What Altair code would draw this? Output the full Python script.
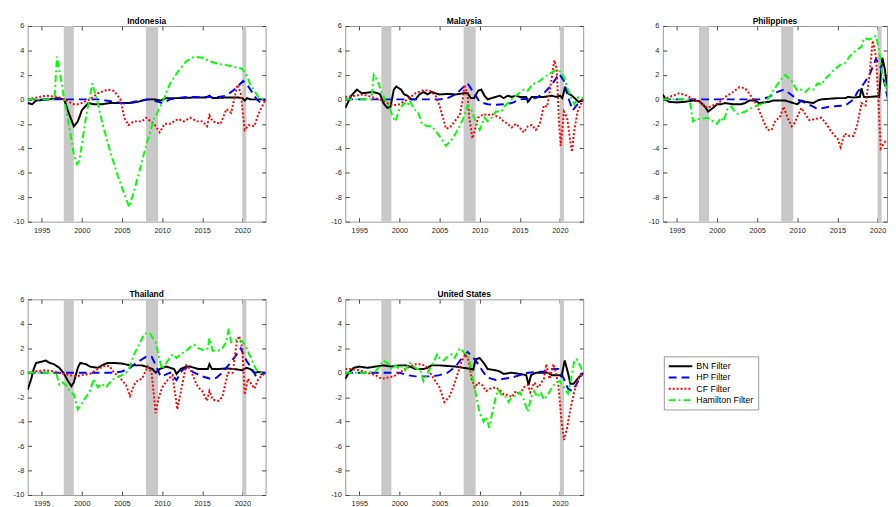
import altair as alt
import pandas as pd

FILTERS = ["BN Filter", "HP Filter", "CF Filter", "Hamilton Filter"]
COLORS = ["#000000", "#0000ff", "#ff0000", "#00ff00"]
DASHES = [[1, 0], [8, 5], [2, 2], [7, 3, 2, 3]]

REC_START = [1997.75, 2008.0, 2020.0]
REC_END = [1999.0, 2009.5, 2020.5]
X_DOMAIN = [1993.25, 2022.9]
X_DOMAIN_CLIPPED = [1993.25, 2021.18]   # the third panel runs past the window edge
X_TICKS = [1995, 2000, 2005, 2010, 2015, 2020]
Y_TICKS = [-10, -8, -6, -4, -2, 0, 2, 4, 6]

# ---------------- Indonesia ----------------
IDN_BN = [(1993.25, -0.3), (1993.8, -0.4), (1994.3, -0.1), (1995, -0.05), (1996, 0.0), (1997, 0.1),
          (1997.8, 0.0), (1998.3, -1.0), (1999.0, -2.2), (1999.5, -1.8), (2000.0, -0.9), (2000.8, -0.3),
          (2001.5, -0.4), (2002.5, -0.4), (2003.5, -0.3), (2005, -0.3), (2006, -0.3), (2007, -0.2),
          (2008, 0.0), (2009, 0.0), (2009.8, -0.1), (2010.5, 0.1), (2012, 0.1), (2014, 0.15),
          (2015.5, 0.15), (2015.9, 0.3), (2016.3, 0.1), (2018, 0.15), (2019.5, 0.15), (2020, 0.1),
          (2020.3, -0.1), (2020.6, 0.1), (2021, 0.0), (2022.9, 0.0)]
IDN_HP = [(1993.25, 0.0), (2002, 0.0), (2003, -0.1), (2004, -0.2), (2005.5, -0.35), (2006.5, -0.2),
          (2008.5, 0.0), (2010, -0.3), (2011, 0.0), (2013, 0.2), (2015, 0.2), (2017, 0.2), (2018, 0.3),
          (2019, 0.8), (2020.1, 1.5), (2020.8, 1.0), (2021.8, 0.0), (2022.3, -0.3), (2022.9, 0.0)]
IDN_CF = [(1993.25, 0.0), (1995.5, 0.3), (1997, 0.2), (1997.8, 0.0), (1999.0, -0.4), (1999.5, -0.4),
          (2000, -0.3), (2001, 0.0), (2002, 0.5), (2003.2, 0.8), (2004, 0.7), (2004.8, 0.0),
          (2005.3, -1.5), (2005.8, -2.1), (2006.5, -1.8), (2007.5, -1.8), (2008, -1.5), (2009, -2.0),
          (2009.7, -2.7), (2010.3, -2.0), (2011, -2.0), (2012, -1.6), (2012.7, -1.8), (2013.5, -1.5),
          (2014.3, -1.8), (2015, -1.8), (2015.6, -2.2), (2015.9, -1.3), (2016.3, -1.8), (2017.3, -2.0),
          (2018, -0.8), (2018.6, -1.1), (2019.4, 1.2), (2019.8, 0.5), (2020.3, -2.5), (2020.8, -2.1),
          (2021.5, -2.2), (2022, -1.2), (2022.9, 0.0)]
IDN_HAM = [(1993.25, 0.0), (1996.6, 0.0), (1996.9, 3.5), (1997.3, 2.0), (1997.8, 0.0), (1998.5, -2.5),
           (1999.0, -4.5), (1999.4, -5.3), (1999.7, -5.0), (2000.5, -1.5), (2001.3, 1.3), (2001.8, 0.2),
           (2002.5, -1.8), (2003.5, -4.2), (2004.5, -6.3), (2005.9, -8.8), (2006.5, -7.5), (2007, -6.3),
           (2008, -3.8), (2009, -1.6), (2010, -0.3), (2011, 1.3), (2012, 2.3), (2013, 3.1), (2014, 3.5),
           (2015, 3.4), (2016, 3.1), (2017, 2.9), (2018, 2.8), (2019, 2.65), (2020, 2.5), (2020.5, 2.0),
           (2021, 1.2), (2022, 0.2), (2022.9, -0.1)]

# ---------------- Malaysia ----------------
MYS_BN = [(1993.25, -0.7), (1994, 0.3), (1994.7, 0.8), (1995.3, 0.5), (1996, 0.55), (1996.7, 0.6),
          (1997.3, 0.5), (1997.6, 0.4), (1998, -0.3), (1998.5, -0.7), (1998.9, -0.6), (1999.3, 0.8),
          (1999.6, 1.05), (2000.2, 0.8), (2000.6, 0.4), (2001, 0.3), (2001.5, 0.0), (2002, 0.0),
          (2002.5, 0.4), (2003, 0.6), (2003.5, 0.4), (2004, 0.6), (2005, 0.4), (2006, 0.45), (2007, 0.4),
          (2008, 0.5), (2008.5, 0.5), (2008.9, 0.1), (2009.3, 0.1), (2009.8, 0.7), (2010.2, 0.8),
          (2010.6, 0.3), (2011, 0.0), (2011.5, 0.1), (2012, 0.2), (2012.5, 0.3), (2013, 0.1),
          (2013.5, 0.3), (2014, 0.2), (2014.5, 0.3), (2015, 0.2), (2015.8, 0.2), (2016, -0.2),
          (2016.5, 0.2), (2018, 0.2), (2019, 0.3), (2019.5, 0.2), (2020, 0.3), (2020.3, 0.1),
          (2020.6, 0.9), (2021, 0.5), (2021.5, 0.3), (2022, 0.0), (2022.3, -0.2), (2022.9, -0.1)]
MYS_HP = [(1993.25, 0.0), (2005, 0.0), (2006, 0.1), (2007, 0.4), (2007.8, 0.9), (2008.5, 1.3),
          (2009.3, 0.5), (2010, -0.2), (2011, -0.4), (2012, -0.45), (2013, -0.4), (2014, -0.3),
          (2015, 0.0), (2016, 0.05), (2017, 0.1), (2018, 0.5), (2019, 1.2), (2019.9, 2.1), (2020.5, 1.5),
          (2021, 0.2), (2021.6, -0.9), (2022.3, -0.3), (2022.9, 0.0)]
MYS_CF = [(1993.25, 0.2), (1994.5, 0.3), (1995.5, 0.4), (1996.5, 0.2), (1997.5, 0.0), (1998.5, -0.3),
          (1999.2, -0.5), (2000, -0.4), (2001, 0.0), (2002, 0.5), (2003, 0.75), (2003.8, 0.7),
          (2004.5, 0.3), (2005, -0.5), (2005.8, -2.4), (2006.3, -2.3), (2007, -1.7), (2007.5, -1.3),
          (2007.9, 0.0), (2008.1, 1.2), (2008.5, 0.3), (2008.7, -1.5), (2009.1, -3.2), (2009.4, -2.5),
          (2009.8, -1.5), (2010.5, -1.2), (2011, -1.3), (2011.5, -1.2), (2012.5, -1.5), (2013, -1.8),
          (2013.5, -2.0), (2014, -2.3), (2014.5, -2.0), (2015, -2.3), (2015.5, -2.7), (2016, -2.2),
          (2016.5, -2.1), (2017, -2.5), (2017.5, -2.0), (2018, -0.5), (2018.4, -0.6), (2018.7, 0.5),
          (2019.3, 3.2), (2019.6, 2.5), (2019.9, -2.0), (2020.1, -3.8), (2020.5, -1.0), (2020.9, -1.5),
          (2021.3, -3.5), (2021.5, -4.3), (2021.8, -2.5), (2022.2, -1.0), (2022.9, 0.0)]
MYS_HAM = [(1993.25, 0.0), (1996.5, 0.0), (1996.8, 2.0), (1997.3, 1.5), (1997.8, 0.5), (1998.2, 0.0),
           (1998.7, -0.5), (1999.2, -1.5), (1999.5, -1.8), (2000, -0.8), (2000.6, -0.3), (2001, -0.5),
           (2001.3, -0.1), (2001.8, -0.8), (2002.3, -1.0), (2002.8, -2.0), (2003.5, -2.2), (2004, -2.2),
           (2004.5, -2.6), (2005, -3.0), (2005.8, -3.8), (2006.5, -3.3), (2007, -2.8), (2007.5, -2.2),
           (2008, -1.5), (2008.5, -0.5), (2009, -0.9), (2009.3, -1.5), (2009.6, -2.0), (2010, -2.5),
           (2010.6, -1.5), (2011, -1.8), (2011.5, -1.5), (2012, -1.0), (2012.7, -1.0), (2013.2, -0.5),
           (2014, 0.0), (2014.5, 0.3), (2015.5, 0.8), (2016, 0.7), (2016.5, 1.2), (2017.5, 1.5),
           (2018, 1.8), (2018.5, 2.0), (2019, 2.2), (2019.5, 2.4), (2020, 2.3), (2020.5, 1.8),
           (2021, 0.8), (2021.5, 0.0), (2021.8, -0.4), (2022.3, 0.2), (2022.9, 0.1)]

# ---------------- Philippines ----------------
PHL_BN = [(1993.25, 0.4), (1993.6, 0.0), (1994, -0.2), (1995, -0.25), (1996, -0.2), (1997, -0.1),
          (1997.8, -0.15), (1998.5, -0.6), (1998.9, -1.0), (1999.5, -0.7), (2000, -0.4), (2000.5, -0.4),
          (2001, -0.3), (2002, -0.4), (2003, -0.4), (2003.5, -0.3), (2004, -0.1), (2004.8, -0.1),
          (2005.2, -0.3), (2006.5, -0.2), (2007, -0.1), (2008.5, -0.1), (2009.5, -0.3), (2010, -0.4),
          (2010.5, -0.1), (2011, -0.2), (2012, -0.3), (2012.5, -0.1), (2013, 0.0), (2014, 0.05),
          (2015, 0.1), (2016, 0.1), (2016.3, 0.2), (2017, 0.15), (2017.8, 0.2), (2018, 0.9),
          (2018.3, 0.2), (2019, 0.2), (2020, 0.25), (2020.2, 0.2), (2020.4, 2.0), (2020.6, 3.4),
          (2020.9, 2.5), (2021.3, 0.5), (2021.7, -0.4), (2022.3, -0.2), (2022.9, 0.0)]
PHL_HP = [(1993.25, 0.0), (2004, 0.0), (2005.5, 0.0), (2006.5, 0.2), (2007.5, 0.6), (2008.3, 0.8),
          (2009, 0.5), (2010, 0.0), (2011, -0.3), (2012, -0.6), (2012.5, -0.8), (2014, -0.6),
          (2015, -0.55), (2016, -0.5), (2017, 0.0), (2017.5, 0.6), (2018.3, 1.3), (2019, 2.0),
          (2019.8, 3.3), (2020.3, 2.8), (2020.8, 1.5), (2021.3, 0.0), (2021.6, -0.6), (2022.2, -0.3),
          (2022.9, 0.0)]
PHL_CF = [(1993.25, 0.0), (1994.5, 0.3), (1995.3, 0.5), (1996.3, 0.3), (1997, 0.0), (1998, -0.3),
          (1998.8, -0.7), (1999.5, -0.5), (2000.2, -0.3), (2001, 0.2), (2002, 0.6), (2002.8, 1.0),
          (2003.5, 0.9), (2004, 0.5), (2005, -0.5), (2005.8, -1.8), (2006.3, -2.5), (2006.8, -2.5),
          (2007.3, -1.7), (2007.8, -1.5), (2008.3, -0.6), (2008.8, -1.5), (2009.3, -2.2), (2009.6, -2.0),
          (2010.3, -1.0), (2010.5, -0.7), (2011, -1.2), (2011.5, -1.7), (2012.3, -1.6), (2013, -1.5),
          (2013.6, -2.0), (2014.3, -2.7), (2015, -3.2), (2015.4, -3.9), (2015.9, -2.8), (2016.5, -3.0),
          (2017, -3.0), (2017.5, -2.0), (2018, -0.3), (2018.5, -0.5), (2019, 2.0), (2019.4, 4.8),
          (2019.8, 3.5), (2020.1, 0.0), (2020.4, -4.0), (2021, -3.4), (2021.5, -3.3), (2022.3, -2.5),
          (2022.9, -1.5)]
PHL_HAM = [(1993.25, 0.0), (1996.5, 0.0), (1996.7, -0.5), (1997, -1.8), (1997.5, -1.6), (1998, -1.6),
           (1998.8, -1.5), (1999.5, -1.8), (2000, -2.0), (2000.5, -1.5), (2000.8, -1.8), (2001.3, -0.8),
           (2001.8, -0.6), (2002.2, -1.0), (2002.6, -1.2), (2003.5, -1.0), (2004, -0.8), (2005, -0.5),
           (2006, -0.3), (2006.3, 0.0), (2006.8, 0.5), (2007.5, 1.2), (2008.2, 1.8), (2008.5, 2.0),
           (2009.3, 1.5), (2010, 0.7), (2010.5, 0.8), (2011, 0.6), (2011.5, 0.9), (2012, 0.8),
           (2012.5, 1.3), (2013, 1.2), (2013.5, 1.7), (2014, 2.0), (2014.7, 2.5), (2015.3, 2.8),
           (2016, 3.0), (2016.5, 3.5), (2017.3, 4.0), (2018, 4.3), (2018.3, 5.0), (2019, 4.9),
           (2019.5, 5.1), (2019.8, 5.2), (2020.2, 4.0), (2020.6, 2.0), (2021.3, 0.5), (2021.7, 0.1),
           (2022.9, 0.0)]

# ---------------- Thailand ----------------
THA_BN = [(1993.25, -1.4), (1993.7, -0.5), (1994, 0.3), (1994.3, 0.8), (1995, 0.9), (1995.5, 1.0),
          (1996, 0.8), (1996.5, 0.7), (1997.2, 0.4), (1997.7, 0.0), (1998.3, -0.7), (1998.7, -1.1),
          (1999, -0.8), (1999.5, 0.4), (1999.8, 0.8), (2000.5, 0.7), (2001, 0.5), (2002, 0.4),
          (2002.5, 0.6), (2003.2, 0.8), (2004, 0.8), (2005, 0.75), (2006, 0.6), (2007.5, 0.6),
          (2008, 0.5), (2008.8, 0.3), (2009.2, 0.0), (2009.7, 0.3), (2010.5, 0.5), (2011, 0.4),
          (2011.5, 0.3), (2011.8, -0.1), (2012.3, 0.3), (2013, 0.5), (2013.5, 0.5), (2014.5, 0.3),
          (2015.7, 0.3), (2015.9, 0.7), (2016.2, 0.3), (2017, 0.3), (2018, 0.35), (2019, 0.3),
          (2020, 0.2), (2020.5, 0.4), (2021, 0.3), (2021.5, 0.0), (2022, 0.05), (2022.9, 0.0)]
THA_HP = [(1993.25, 0.0), (2004, 0.0), (2005, 0.1), (2006, 0.4), (2007, 0.9), (2008, 1.3), (2008.7, 1.3),
          (2009.3, 0.5), (2009.8, -0.3), (2010.3, -0.2), (2011, 0.0), (2011.8, -0.6), (2012.5, 0.2),
          (2013, 0.4), (2014, 0.0), (2015, -0.3), (2016, -0.5), (2016.8, -0.4), (2017.5, 0.0),
          (2018.5, 0.8), (2019.3, 1.5), (2019.8, 2.0), (2020.5, 1.0), (2021.3, 0.2), (2021.7, -0.3),
          (2022.9, 0.0)]
THA_CF = [(1993.25, 0.0), (1994, 0.1), (1995.5, 0.2), (1996.5, 0.1), (1997, 0.0), (1998.5, -0.2),
          (1999.3, -0.3), (2000, -0.2), (2001, -0.1), (2002, 0.3), (2003, 0.6), (2003.5, 0.5),
          (2004, 0.0), (2004.6, -0.3), (2005.5, -1.0), (2006.0, -1.9), (2006.5, -1.0), (2007, -0.6),
          (2007.5, -0.5), (2008.2, 0.5), (2008.7, 0.0), (2009, -2.0), (2009.2, -3.3), (2009.6, -2.0),
          (2010, -1.2), (2010.8, -0.5), (2011.3, -0.2), (2011.9, -3.0), (2012.5, -1.0), (2013, 0.6),
          (2013.5, 0.3), (2014, -0.5), (2014.5, -1.2), (2015, -1.5), (2015.6, -2.3), (2015.9, -1.5),
          (2016.3, -2.2), (2017, -2.3), (2017.5, -2.0), (2018.2, 0.0), (2018.8, 0.0), (2019.3, 2.5),
          (2019.6, 3.0), (2020, 2.0), (2020.3, -1.8), (2020.7, -0.5), (2021.2, -1.0), (2021.5, -1.3),
          (2022, -0.5), (2022.9, 0.0)]
THA_HAM = [(1993.25, 0.0), (1996.8, 0.0), (1997.2, -1.0), (1997.6, -0.8), (1998, -1.0), (1998.5, -1.5),
           (1999, -1.8), (1999.5, -3.0), (2000, -2.5), (2000.5, -2.0), (2001, -1.5), (2001.5, -0.5),
           (2002, -1.2), (2002.5, -0.9), (2003, -1.2), (2003.5, -0.8), (2004, -0.5), (2005, -0.2),
           (2005.5, 0.0), (2006, 0.5), (2006.5, 1.5), (2007.3, 2.5), (2007.8, 3.2), (2008.5, 3.2),
           (2009.2, 2.5), (2009.7, 1.0), (2010, 0.3), (2010.5, 0.8), (2011.3, 1.5), (2011.8, 1.2),
           (2012.3, 1.5), (2013, 1.8), (2013.7, 2.2), (2014, 2.3), (2014.5, 2.0), (2015.3, 1.8),
           (2015.7, 2.0), (2015.9, 2.8), (2016.3, 1.8), (2017, 1.8), (2017.5, 2.0), (2018, 2.5),
           (2018.3, 3.6), (2018.6, 2.5), (2019.3, 2.7), (2020, 2.6), (2020.5, 2.0), (2021.2, 1.0),
           (2021.7, 0.3), (2022.3, 0.0), (2022.9, -0.1)]

# ---------------- United States ----------------
USA_BN = [(1993.25, -0.5), (1993.7, 0.0), (1994.3, 0.4), (1995, 0.5), (1996, 0.4), (1997, 0.5),
          (1998, 0.6), (1999, 0.5), (2000, 0.6), (2000.8, 0.6), (2001.3, 0.5), (2002, 0.3), (2003, 0.3),
          (2003.5, 0.4), (2004, 0.6), (2005, 0.6), (2006, 0.55), (2007, 0.5), (2008, 0.4), (2009, 0.3),
          (2009.2, 0.25), (2009.5, 1.1), (2010, 1.2), (2010.5, 0.8), (2011, 0.3), (2012, 0.2),
          (2012.5, 0.1), (2013, -0.1), (2014, 0.0), (2015, -0.1), (2015.8, -0.2), (2016.1, -1.0),
          (2016.4, -0.2), (2017, 0.0), (2018, 0.0), (2018.5, 0.0), (2019, -0.2), (2020, -0.2),
          (2020.2, -0.3), (2020.6, 1.0), (2021, 0.0), (2021.3, -0.9), (2021.7, -0.9), (2022.2, -0.5),
          (2022.9, 0.0)]
USA_HP = [(1993.25, 0.0), (1999, 0.0), (2000, 0.0), (2001, -0.2), (2002, -0.3), (2003, -0.3),
          (2004, -0.3), (2005, -0.2), (2006, 0.0), (2007, 0.5), (2007.8, 1.2), (2008.5, 1.7),
          (2009.5, 1.0), (2010.5, 0.0), (2011, -0.4), (2012, -0.6), (2013, -0.5), (2014, -0.4),
          (2015, -0.2), (2016, 0.0), (2017, 0.05), (2018, 0.1), (2019, 0.3), (2019.8, 0.3),
          (2020.5, -0.5), (2021, -1.3), (2021.5, -1.5), (2022, -1.0), (2022.9, 0.0)]
USA_CF = [(1993.25, 0.3), (1994, 0.3), (1995, 0.2), (1996, 0.0), (1997, -0.2), (1997.8, -0.5),
          (1998.5, -0.4), (1999.3, -0.3), (2000, 0.0), (2000.7, 0.3), (2001.3, 0.5), (2002, 0.7),
          (2002.8, 0.7), (2003.3, 0.5), (2003.8, 0.0), (2004.3, -0.5), (2005, -1.2), (2005.6, -2.4),
          (2006.2, -2.0), (2006.8, -1.0), (2007.3, 0.0), (2007.8, 1.0), (2008.2, 1.5), (2008.6, 1.0),
          (2009, -0.5), (2009.4, -1.2), (2009.8, -0.8), (2010.3, -1.0), (2010.8, -1.5), (2011.3, -1.3),
          (2012, -1.2), (2012.5, -1.4), (2013, -1.8), (2013.5, -1.8), (2014, -2.0), (2014.5, -1.5),
          (2015, -1.8), (2015.5, -1.2), (2016, -1.0), (2016.3, -1.6), (2016.8, -0.8), (2017.3, -1.2),
          (2018, -0.5), (2018.3, 0.7), (2018.7, -0.5), (2019.2, 0.7), (2019.5, 0.0), (2019.8, -1.0),
          (2020.2, -4.0), (2020.5, -5.5), (2020.9, -4.5), (2021.3, -3.0), (2021.8, -1.5), (2022.3, -0.5),
          (2022.9, 0.0)]
USA_HAM = [(1993.25, 0.0), (1996, 0.0), (1997, 0.1), (1997.5, 0.5), (1998, 1.0), (1998.5, 0.8),
           (1999, 0.3), (1999.5, 0.6), (2000, 0.3), (2000.3, 0.5), (2000.7, 0.2), (2001, 0.5),
           (2001.3, 0.8), (2001.8, 0.5), (2002.2, 0.3), (2002.6, 0.3), (2003, -0.7), (2003.3, -0.3),
           (2003.8, 0.3), (2004.2, 0.8), (2004.7, 1.5), (2005, 1.2), (2005.5, 1.0), (2006, 1.3),
           (2006.5, 1.5), (2006.9, 1.2), (2007.3, 1.8), (2007.6, 2.0), (2008.1, 1.6), (2008.5, 1.5),
           (2008.8, 0.8), (2009.3, -1.0), (2009.6, -2.0), (2010, -3.3), (2010.5, -4.0), (2010.8, -3.6),
           (2011.2, -4.5), (2011.5, -3.5), (2012, -2.0), (2012.3, -1.4), (2012.7, -1.8), (2013.3, -2.0),
           (2013.6, -2.4), (2014, -2.0), (2014.5, -1.9), (2015, -1.6), (2015.5, -2.2), (2016, -3.2),
           (2016.4, -2.0), (2016.8, -1.5), (2017.2, -2.0), (2017.6, -1.6), (2018, -2.2), (2018.5, -1.8),
           (2019, -1.2), (2019.5, -0.8), (2020, -0.7), (2021, -1.7), (2021.4, -0.5), (2021.8, 1.0),
           (2022.1, 1.1), (2022.5, 0.6), (2022.9, 0.0)]

PANELS = [
    ("Indonesia", [IDN_BN, IDN_HP, IDN_CF, IDN_HAM], X_DOMAIN),
    ("Malaysia", [MYS_BN, MYS_HP, MYS_CF, MYS_HAM], X_DOMAIN),
    ("Philippines", [PHL_BN, PHL_HP, PHL_CF, PHL_HAM], X_DOMAIN_CLIPPED),
    ("Thailand", [THA_BN, THA_HP, THA_CF, THA_HAM], X_DOMAIN),
    ("United States", [USA_BN, USA_HP, USA_CF, USA_HAM], X_DOMAIN),
]

W, H = 242, 199
PX_PER_YEAR = W / (X_DOMAIN[1] - X_DOMAIN[0])
FONT = "Liberation Sans"
TICK_COLOR = "#444444"

legend = alt.Legend(
    orient="none", legendX=647, legendY=336, title=None,
    symbolType="M-1,0H3.8", symbolSize=100, symbolStrokeWidth=2,
    labelFontSize=9, labelFont=FONT, labelColor="#000000", labelOffset=17,
    strokeColor="#999999", fillColor="#ffffff", padding=4, rowPadding=0.5,
)


def panel(name, series, xdom):
    rows = []
    for f, pts in zip(FILTERS, series):
        for x, y in pts:
            rows.append({"year": x, "value": y, "Filter": f})
    df = pd.DataFrame(rows)
    rec = pd.DataFrame({"start": REC_START, "end": REC_END,
                        "lo": [Y_TICKS[0]] * len(REC_START), "hi": [Y_TICKS[-1]] * len(REC_START)})
    w = round(PX_PER_YEAR * (xdom[1] - xdom[0]))
    xs = alt.Scale(domain=xdom, nice=False, zero=False)
    ys = alt.Scale(domain=[Y_TICKS[0], Y_TICKS[-1]], nice=False, zero=False)
    xax = alt.Axis(values=X_TICKS, format="d", title=None, ticks=False, domain=False,
                   grid=True, gridDash=[4, H - 8, 4, 0], gridColor=TICK_COLOR, gridWidth=1,
                   labelPadding=5)
    yax = alt.Axis(values=Y_TICKS, labelExpr="toString(datum.value)", title=None, ticks=False,
                   domain=False, grid=True, gridDash=[4, w - 8, 4, 0], gridColor=TICK_COLOR,
                   gridWidth=1, labelPadding=4)
    bands = alt.Chart(rec).mark_rect(color="#c8c8c8", clip=True).encode(
        x=alt.X("start:Q", scale=xs, axis=xax),
        x2="end:Q",
        y=alt.Y("lo:Q", scale=ys, axis=yax),
        y2="hi:Q",
    )
    lines = alt.Chart(df).mark_line(strokeWidth=2, clip=True, strokeCap="butt").encode(
        x=alt.X("year:Q", scale=xs, axis=xax),
        y=alt.Y("value:Q", scale=ys, axis=yax),
        color=alt.Color("Filter:N", scale=alt.Scale(domain=FILTERS, range=COLORS), legend=legend),
        strokeDash=alt.StrokeDash("Filter:N", scale=alt.Scale(domain=FILTERS, range=DASHES), legend=legend),
    )
    return alt.layer(bands, lines).properties(
        width=w, height=H,
        title=alt.TitleParams(name, fontSize=8.5, fontWeight="bold", font=FONT, offset=-3, color="#000000"),
    )


charts = [panel(n, s, d) for n, s, d in PANELS]
top = alt.hconcat(*charts[:3], spacing=64)
bottom = alt.hconcat(*charts[3:], spacing=64)
chart = alt.vconcat(top, bottom, spacing=56).properties(
    padding={"left": 4, "top": 4, "right": 0, "bottom": 0}
).configure_view(
    stroke="#999999", strokeWidth=1
).configure_axis(
    labelFont=FONT, labelFontSize=7.5, labelColor="#262626"
)

chart.save("out.html", embed_options={"renderer": "svg", "actions": False})
